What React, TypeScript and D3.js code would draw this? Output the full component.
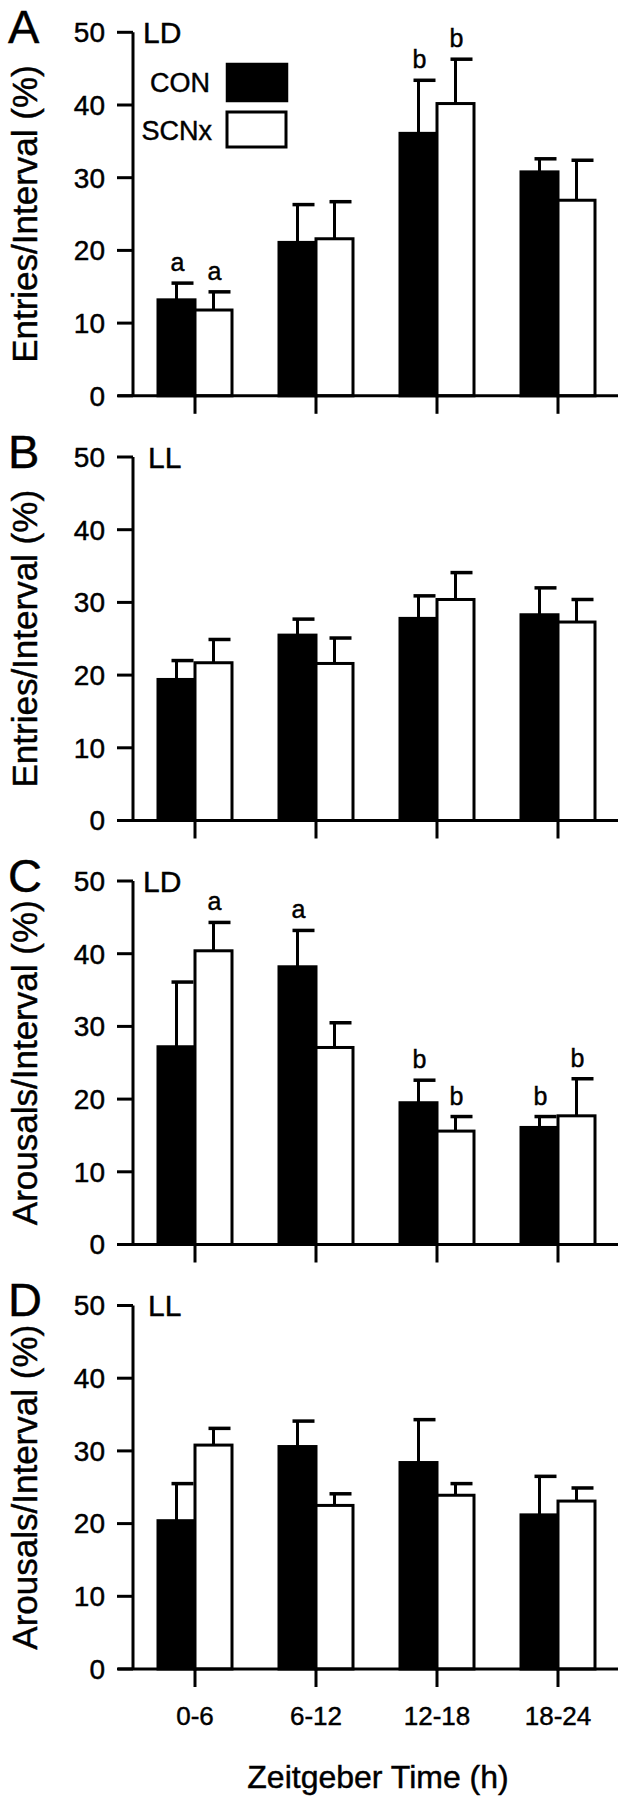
import React from "react";
import * as d3 from "d3";

const categories = ["0-6", "6-12", "12-18", "18-24"];
const groups = ["CON", "SCNx"];
const yTicks = [0, 10, 20, 30, 40, 50];

// Panel A: Entries, LD
const conA = [13.2, 21.1, 36.1, 30.8];
const conErrA = [2.3, 5.2, 7.3, 1.8];
const scnA = [11.8, 21.6, 40.2, 26.9];
const scnErrA = [2.5, 5.1, 6.1, 5.5];
const conLetA = ["a", "", "b", ""];
const scnLetA = ["a", "", "b", ""];

// Panel B: Entries, LL
const conB = [19.4, 25.5, 27.8, 28.3];
const conErrB = [2.6, 2.2, 3.1, 3.7];
const scnB = [21.7, 21.6, 30.4, 27.3];
const scnErrB = [3.2, 3.5, 3.7, 3.1];
const noLet = ["", "", "", ""];

// Panel C: Arousals, LD
const conC = [27.2, 38.2, 19.5, 16.1];
const conErrC = [8.9, 5.0, 3.1, 1.5];
const scnC = [40.4, 27.1, 15.6, 17.7];
const scnErrC = [3.9, 3.4, 2.0, 5.1];
const conLetC = ["", "a", "b", "b"];
const scnLetC = ["a", "", "b", "b"];

// Panel D: Arousals, LL
const conD = [20.4, 30.6, 28.4, 21.2];
const conErrD = [5.1, 3.5, 5.9, 5.3];
const scnD = [30.8, 22.5, 23.9, 23.1];
const scnErrD = [2.3, 1.6, 1.6, 1.8];

const FONT = "'Liberation Sans', Arial, Helvetica, sans-serif";
const TS = { stroke: "#000", strokeWidth: 0.45 };

type PanelDef = {
  letter: string;
  cond: string;
  ylabel: string;
  top: number;
  con: number[];
  conErr: number[];
  scn: number[];
  scnErr: number[];
  conLet: string[];
  scnLet: string[];
  legend: boolean;
};

const panels: PanelDef[] = [
  { letter: "A", cond: "LD", ylabel: "Entries/Interval (%)", top: 32.3, con: conA, conErr: conErrA, scn: scnA, scnErr: scnErrA, conLet: conLetA, scnLet: scnLetA, legend: true },
  { letter: "B", cond: "LL", ylabel: "Entries/Interval (%)", top: 457, con: conB, conErr: conErrB, scn: scnB, scnErr: scnErrB, conLet: noLet, scnLet: noLet, legend: false },
  { letter: "C", cond: "LD", ylabel: "Arousals/Interval (%)", top: 881, con: conC, conErr: conErrC, scn: scnC, scnErr: scnErrC, conLet: conLetC, scnLet: scnLetC, legend: false },
  { letter: "D", cond: "LL", ylabel: "Arousals/Interval (%)", top: 1305.5, con: conD, conErr: conErrD, scn: scnD, scnErr: scnErrD, conLet: noLet, scnLet: noLet, legend: false },
];

const PH = 363.5;
const AXIS_X = 133;
const X_LEFT = 118;
const X_RIGHT = 618;

const x0 = d3.scalePoint<string>().domain(categories).range([195, 558]);
const x1 = d3.scaleBand<string>().domain(groups).range([-37, 37]);

function Panel({ p, last }: { p: PanelDef; last: boolean }) {
  const y = d3.scaleLinear().domain([0, 50]).range([p.top + PH, p.top]);
  const y0 = y(0);
  const series = [
    { g: "CON", vals: p.con, errs: p.conErr, lets: p.conLet, fill: "#000" },
    { g: "SCNx", vals: p.scn, errs: p.scnErr, lets: p.scnLet, fill: "#fff" },
  ];
  return (
    <g>
      <text x={8} y={p.top + 10.5} fontSize={47} fontFamily={FONT} {...TS}>{p.letter}</text>
      <text x={p.cond === "LD" ? 143 : 148} y={p.top + 10.5} fontSize={30} fontFamily={FONT} {...TS}>{p.cond}</text>
      <text
        transform={`translate(37,${p.top + PH / 2}) rotate(-90)`}
        textAnchor="middle"
        fontSize={35}
        fontFamily={FONT}
        {...TS}
      >
        {p.ylabel}
      </text>
      {series.map((s) =>
        categories.map((c, i) => {
          const bx = (x0(c) as number) + (x1(s.g) as number);
          const bw = x1.bandwidth();
          const cx = bx + bw / 2;
          const yv = y(s.vals[i]);
          const ye = y(s.vals[i] + s.errs[i]);
          return (
            <g key={s.g + c}>
              <line x1={cx} x2={cx} y1={yv} y2={ye} stroke="#000" strokeWidth={3} />
              <line x1={cx - 5} x2={cx + 17} y1={ye} y2={ye} stroke="#000" strokeWidth={3.5} />
              <rect x={bx} y={yv} width={bw} height={y0 - yv} fill={s.fill} stroke="#000" strokeWidth={3} />
              {s.lets[i] ? (
                <text x={cx + 1} y={ye - 12} textAnchor="middle" fontSize={25} fontFamily={FONT} {...TS}>
                  {s.lets[i]}
                </text>
              ) : null}
            </g>
          );
        })
      )}
      <line x1={AXIS_X} x2={AXIS_X} y1={y(50)} y2={y0} stroke="#000" strokeWidth={3} />
      {yTicks.map((t) => (
        <g key={t}>
          <line x1={AXIS_X - 16} x2={AXIS_X} y1={y(t)} y2={y(t)} stroke="#000" strokeWidth={3} />
          <text x={105} y={y(t)} dy="0.35em" textAnchor="end" fontSize={28} fontFamily={FONT} {...TS}>
            {t}
          </text>
        </g>
      ))}
      <line x1={X_LEFT} x2={X_RIGHT} y1={y0} y2={y0} stroke="#000" strokeWidth={3} />
      {categories.map((c) => (
        <line key={c} x1={x0(c)} x2={x0(c)} y1={y0} y2={y0 + 18} stroke="#000" strokeWidth={3} />
      ))}
      {last &&
        categories.map((c) => (
          <text key={"l" + c} x={x0(c)} y={y0 + 56} textAnchor="middle" fontSize={26} fontFamily={FONT} {...TS}>
            {c}
          </text>
        ))}
      {p.legend && (
        <g>
          <text x={210} y={92} textAnchor="end" fontSize={27} fontFamily={FONT} {...TS}>CON</text>
          <rect x={227} y={64} width={60} height={37} fill="#000" stroke="#000" strokeWidth={2.5} />
          <text x={212} y={140} textAnchor="end" fontSize={27} fontFamily={FONT} {...TS}>SCNx</text>
          <rect x={227} y={112} width={59} height={35} fill="#fff" stroke="#000" strokeWidth={3} />
        </g>
      )}
    </g>
  );
}

export default function App() {
  return (
    <svg
      width={633}
      height={1800}
      style={{ position: "absolute", left: 0, top: 0, background: "#fff" }}
    >
      <rect x={0} y={0} width={633} height={1800} fill="#fff" />
      {panels.map((p, i) => (
        <Panel key={p.letter} p={p} last={i === panels.length - 1} />
      ))}
      <text x={378} y={1788} textAnchor="middle" fontSize={32} fontFamily={FONT} {...TS}>
        Zeitgeber Time (h)
      </text>
    </svg>
  );
}
